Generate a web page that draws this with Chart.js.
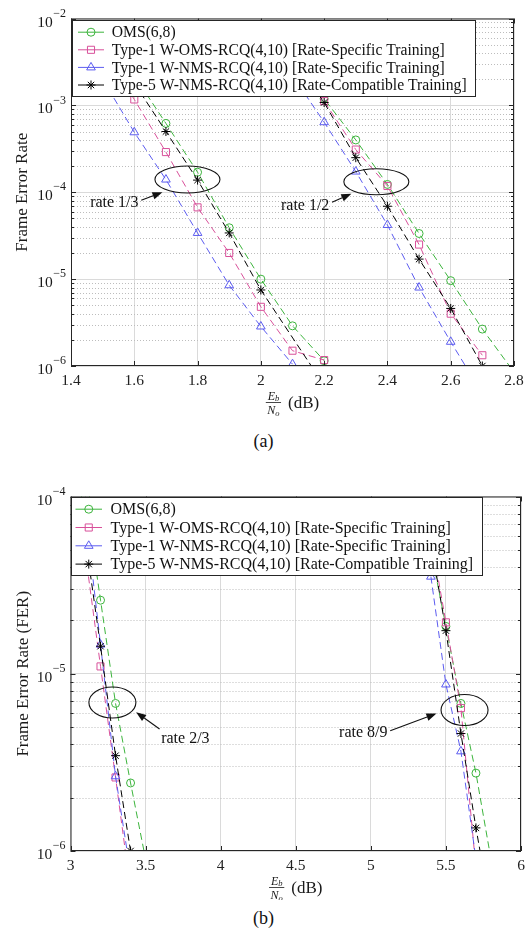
<!DOCTYPE html>
<html>
<head>
<meta charset="utf-8">
<script src="https://cdn.jsdelivr.net/npm/chart.js@4"></script>
<style>
  body { margin: 0; background: #fff; width: 527px; height: 942px; position: relative; overflow: hidden;
         font-family: "Liberation Serif", "DejaVu Serif", serif; color: #111; }
  canvas { position: absolute; left: 0; }
  #fer-a { top: 0; }
  #fer-b { top: 470px; }
  .caption { position: absolute; left: 0; width: 527px; text-align: center; font-size: 18px; line-height: 20px; }
</style>
</head>
<body>
<canvas id="fer-a" width="527" height="430"></canvas>
<canvas id="fer-b" width="527" height="430"></canvas>
<div class="caption" style="top:431px">(a)</div>
<div class="caption" style="top:908px">(b)</div>
<script>
const serif = '"Liberation Serif", "DejaVu Serif", serif';

const seriesNames = [
  'OMS(6,8)',
  'Type-1 W-OMS-RCQ(4,10) [Rate-Specific Training]',
  'Type-1 W-NMS-RCQ(4,10) [Rate-Specific Training]',
  'Type-5 W-NMS-RCQ(4,10) [Rate-Compatible Training]'
];
const seriesColors = ['#3cb43c', '#d8509a', '#5c5cf0', '#000000'];
const seriesMarkers = ['circle', 'rect', 'triangle', 'star'];
const markerRadius = [4, 5, 5, 4.5];

// (a) rate 1/3
const ebnoA13 = [1.5, 1.6, 1.7, 1.8, 1.9, 2.0, 2.1, 2.2];
const omsA13 = [null, 2.2e-3, 6.2e-4, 1.7e-4, 3.9e-5, 1.0e-5, 2.9e-6, 1.15e-6];
const womsA13 = [4.5e-3, 1.17e-3, 2.9e-4, 6.7e-5, 2.0e-5, 4.8e-6, 1.5e-6, 1.17e-6];
const wnmsA13 = [2.0e-3, 4.9e-4, 1.4e-4, 3.4e-5, 8.5e-6, 2.85e-6, 1.05e-6, null];
const t5nmsA13 = [null, 1.8e-3, 5.0e-4, 1.38e-4, 3.4e-5, 7.5e-6, null, 6.0e-7];

// (a) rate 1/2
const ebnoA12 = [2.1, 2.2, 2.3, 2.4, 2.5, 2.6, 2.7, 2.8];
const omsA12 = [3.6e-3, 1.19e-3, 4.0e-4, 1.23e-4, 3.35e-5, 9.6e-6, 2.66e-6, 8.5e-7];
const womsA12 = [3.6e-3, 1.12e-3, 3.1e-4, 1.18e-4, 2.5e-5, 4.0e-6, 1.33e-6, null];
const wnmsA12 = [2.2e-3, 6.4e-4, 1.73e-4, 4.2e-5, 8.0e-6, 1.9e-6, 4.8e-7, null];
const t5nmsA12 = [3.5e-3, 1.08e-3, 2.5e-4, 6.9e-5, 1.7e-5, 4.6e-6, 1.0e-6, null];

// (b) rate 2/3
const ebnoB23 = [3.1, 3.2, 3.3, 3.4, 3.5];
const omsB23 = [1.0e-4, 2.6e-5, 6.8e-6, 2.42e-6, 9.0e-7];
const womsB23 = [4.7e-5, 1.1e-5, 2.6e-6, 6.0e-7, null];
const wnmsB23 = [8.0e-5, 1.46e-5, 2.64e-6, 7.5e-7, null];
const t5nmsB23 = [5.7e-5, 1.43e-5, 3.45e-6, 1.0e-6, null];

// (b) rate 8/9
const ebnoB89 = [5.4, 5.5, 5.6, 5.7, 5.8];
const omsB89 = [5.0e-5, 1.85e-5, 6.8e-6, 2.75e-6, 9.0e-7];
const womsB89 = [5.9e-5, 1.95e-5, 6.4e-6, 8.0e-7, null];
const wnmsB89 = [3.53e-5, 8.7e-6, 3.65e-6, 9.0e-7, null];
const t5nmsB89 = [5.5e-5, 1.75e-5, 4.6e-6, 1.35e-6, 4.5e-7];

const yDecadesA = [-6, -5, -4, -3, -2];
const yDecadesB = [-6, -5, -4];

function curve(s, xs, ys) {
  return {
    label: seriesNames[s],
    data: xs.map((x, i) => ({ x: x, y: ys[i] })),
    borderColor: seriesColors[s],
    borderWidth: 1,
    borderDash: [7, 4],
    pointStyle: seriesMarkers[s],
    pointRadius: markerRadius[s],
    pointBorderColor: seriesColors[s],
    pointBackgroundColor: 'rgba(0,0,0,0)',
    pointBorderWidth: 1,
    spanGaps: true,
    order: 3 - s
  };
}

function fitFont(ctx, text, width) {
  ctx.font = '100px ' + serif;
  return 100 * width / ctx.measureText(text).width;
}

function drawArrow(ctx, x0, y0, x1, y1) {
  const ang = Math.atan2(y1 - y0, x1 - x0);
  const len = 10, hw = 3.8;
  const bx = x1 - len * Math.cos(ang), by = y1 - len * Math.sin(ang);
  ctx.beginPath();
  ctx.moveTo(x0, y0);
  ctx.lineTo(bx, by);
  ctx.stroke();
  ctx.beginPath();
  ctx.moveTo(x1, y1);
  ctx.lineTo(bx + hw * Math.sin(ang), by - hw * Math.cos(ang));
  ctx.lineTo(bx - hw * Math.sin(ang), by + hw * Math.cos(ang));
  ctx.closePath();
  ctx.fill();
}

function panelPlugin(opt) {
  return {
    id: 'panelDecor',
    beforeDatasetsDraw(chart) {
      // dotted minor grid between decades
      const { ctx, chartArea: a, scales: { y } } = chart;
      ctx.save();
      ctx.strokeStyle = '#bdbdbd';
      ctx.lineWidth = 1;
      ctx.setLineDash([1, 2]);
      opt.decades.slice(0, -1).forEach(e => {
        for (let k = 2; k <= 9; k++) {
          const py = Math.round(y.getPixelForValue(k * Number('1e' + e))) + 0.5;
          ctx.beginPath();
          ctx.moveTo(a.left, py);
          ctx.lineTo(a.right, py);
          ctx.stroke();
        }
      });
      ctx.restore();
    },
    afterDatasetsDraw(chart) {
      const { ctx, chartArea: a, scales: { x, y } } = chart;
      ctx.save();

      // axes box and inward ticks
      ctx.strokeStyle = '#262626';
      ctx.lineWidth = 1;
      ctx.strokeRect(a.left + 0.5, a.top + 0.5, a.right - a.left - 1, a.bottom - a.top - 1);
      ctx.beginPath();
      x.ticks.forEach(t => {
        const px = Math.round(x.getPixelForValue(t.value)) + 0.5;
        ctx.moveTo(px, a.bottom); ctx.lineTo(px, a.bottom - 5);
        ctx.moveTo(px, a.top); ctx.lineTo(px, a.top + 5);
      });
      opt.decades.forEach((e, i) => {
        const py = Math.round(y.getPixelForValue(Number('1e' + e))) + 0.5;
        ctx.moveTo(a.left, py); ctx.lineTo(a.left + 5, py);
        ctx.moveTo(a.right, py); ctx.lineTo(a.right - 5, py);
        if (i === opt.decades.length - 1) return;
        for (let k = 2; k <= 9; k++) {
          const pm = Math.round(y.getPixelForValue(k * Number('1e' + e))) + 0.5;
          ctx.moveTo(a.left, pm); ctx.lineTo(a.left + 3, pm);
          ctx.moveTo(a.right, pm); ctx.lineTo(a.right - 3, pm);
        }
      });
      ctx.stroke();

      // rate callouts
      ctx.strokeStyle = '#111';
      ctx.fillStyle = '#111';
      ctx.lineWidth = 1.1;
      opt.notes.forEach(n => {
        ctx.beginPath();
        ctx.ellipse(x.getPixelForValue(n.at[0]), y.getPixelForValue(n.at[1]), n.rx, n.ry, 0, 0, 2 * Math.PI);
        ctx.stroke();
        drawArrow(ctx, x.getPixelForValue(n.from[0]), y.getPixelForValue(n.from[1]),
                  x.getPixelForValue(n.to[0]), y.getPixelForValue(n.to[1]));
        ctx.font = '16px ' + serif;
        ctx.textAlign = 'center';
        ctx.textBaseline = 'middle';
        ctx.fillText(n.text, x.getPixelForValue(n.textAt[0]), y.getPixelForValue(n.textAt[1]));
      });

      // legend box
      const L = opt.legend;
      const bx = a.left + L.x, by = a.top + L.y;
      ctx.fillStyle = '#fff';
      ctx.fillRect(bx, by, L.w, L.h);
      ctx.strokeStyle = '#262626';
      ctx.lineWidth = 1;
      ctx.strokeRect(Math.round(bx) + 0.5, Math.round(by) + 0.5, L.w, L.h);
      const fs = fitFont(ctx, seriesNames[1], L.textWidth);
      seriesNames.forEach((name, s) => {
        const ry = by + L.first + s * L.step;
        ctx.strokeStyle = seriesColors[s];
        ctx.setLineDash([]);
        ctx.beginPath();
        ctx.moveTo(bx + L.s0, ry);
        ctx.lineTo(bx + L.s1, ry);
        ctx.stroke();
        ctx.fillStyle = 'rgba(0,0,0,0)';
        Chart.helpers.drawPoint(ctx, { pointStyle: seriesMarkers[s], radius: markerRadius[s], rotation: 0, borderWidth: 1 },
          bx + (L.s0 + L.s1) / 2, ry);
        ctx.fillStyle = '#111';
        ctx.font = fs + 'px ' + serif;
        ctx.textAlign = 'left';
        ctx.textBaseline = 'middle';
        ctx.fillText(name, bx + L.tx, ry + 1);
      });
      ctx.restore();
    },
    afterDraw(chart) {
      const { ctx, chartArea: a, scales: { y } } = chart;
      ctx.save();
      ctx.fillStyle = '#1a1a1a';

      // power-of-ten tick labels
      ctx.textBaseline = 'middle';
      ctx.textAlign = 'right';
      opt.decades.forEach(e => {
        const py = y.getPixelForValue(Number('1e' + e));
        const exp = '\u2212' + Math.abs(e);
        ctx.font = '12px ' + serif;
        const ew = ctx.measureText(exp).width;
        ctx.fillText(exp, a.left - 5, py - 5);
        ctx.font = '15.5px ' + serif;
        ctx.fillText('10', a.left - 5.5 - ew, py + 4);
      });

      // y axis title
      ctx.save();
      ctx.translate(opt.yTitleX, (a.top + a.bottom) / 2);
      ctx.rotate(-Math.PI / 2);
      ctx.textAlign = 'center';
      ctx.font = '17px ' + serif;
      ctx.fillText(opt.yTitle, 0, 0);
      ctx.restore();

      // x axis title: Eb/No (dB)
      const barY = a.bottom + 36.5;
      const cx = (a.left + a.right) / 2;
      ctx.font = '17px ' + serif;
      const wdB = ctx.measureText('(dB)').width;
      ctx.font = 'italic 12px ' + serif;
      const wE = ctx.measureText('E').width, wN = ctx.measureText('N').width;
      ctx.font = 'italic 8.5px ' + serif;
      const wb = ctx.measureText('b').width, wo = ctx.measureText('o').width;
      const wf = Math.max(wE + wb, wN + wo) + 3;
      const gap = 7;
      const x0 = cx - (wf + gap + wdB) / 2;
      ctx.textAlign = 'left';
      ctx.textBaseline = 'alphabetic';
      const nx = x0 + (wf - wE - wb) / 2;
      ctx.font = 'italic 12px ' + serif;
      ctx.fillText('E', nx, barY - 3);
      ctx.font = 'italic 8.5px ' + serif;
      ctx.fillText('b', nx + wE, barY - 1.5);
      const dx = x0 + (wf - wN - wo) / 2;
      ctx.font = 'italic 12px ' + serif;
      ctx.fillText('N', dx, barY + 11);
      ctx.font = 'italic 8.5px ' + serif;
      ctx.fillText('o', dx + wN, barY + 13);
      ctx.fillRect(x0, barY - 0.4, wf, 0.8);
      ctx.font = '17px ' + serif;
      ctx.textBaseline = 'middle';
      ctx.fillText('(dB)', x0 + wf + gap, barY + 1);
      ctx.restore();
    }
  };
}

function makeChart(id, opt) {
  return new Chart(document.getElementById(id), {
    type: 'line',
    data: { datasets: opt.datasets },
    options: {
      responsive: false,
      animation: false,
      events: [],
      layout: { padding: opt.padding },
      plugins: { legend: { display: false }, tooltip: { enabled: false } },
      scales: {
        x: {
          type: 'linear',
          min: opt.xMin,
          max: opt.xMax,
          ticks: {
            stepSize: opt.xStep,
            padding: 6,
            color: '#222',
            font: { family: serif, size: 15.5 },
            callback: v => String(Number(v.toFixed(2)))
          },
          grid: { color: '#dadada', drawTicks: false },
          border: { display: false },
          afterFit: s => {
            s.height = opt.xHeight;
            // plot edges are set by layout.padding alone
            s.paddingLeft = 0;
            s.paddingRight = 0;
          }
        },
        y: {
          type: 'logarithmic',
          min: Number('1e' + opt.decades[0]),
          max: Number('1e' + opt.decades[opt.decades.length - 1]),
          afterBuildTicks: s => { s.ticks = opt.decades.map(e => ({ value: Number('1e' + e), major: true })); },
          ticks: { display: false },
          grid: { color: '#dadada', drawTicks: false },
          border: { display: false },
          afterFit: s => { s.width = opt.yWidth; }
        }
      }
    },
    plugins: [panelPlugin(opt)]
  });
}

makeChart('fer-a', {
  datasets: [
    curve(0, ebnoA13, omsA13), curve(1, ebnoA13, womsA13), curve(2, ebnoA13, wnmsA13), curve(3, ebnoA13, t5nmsA13),
    curve(0, ebnoA12, omsA12), curve(1, ebnoA12, womsA12), curve(2, ebnoA12, wnmsA12), curve(3, ebnoA12, t5nmsA12)
  ],
  xMin: 1.4, xMax: 2.8, xStep: 0.2,
  decades: yDecadesA,
  padding: { top: 18.5, right: 13, left: 0, bottom: 0 },
  yWidth: 71, xHeight: 64,
  yTitle: 'Frame Error Rate', yTitleX: 23,
  legend: { x: 1, y: 1.5, w: 403, h: 76, first: 12.2, step: 17.6, s0: 6, s1: 32, tx: 39.7, textWidth: 333.6 },
  notes: [
    { text: 'rate 1/3', at: [1.768, 1.40e-4], rx: 32.5, ry: 13.5, textAt: [1.537, 7.5e-5], from: [1.622, 8.1e-5], to: [1.689, 1.0e-4] },
    { text: 'rate 1/2', at: [2.365, 1.32e-4], rx: 32.5, ry: 13, textAt: [2.14, 6.97e-5], from: [2.225, 7.67e-5], to: [2.286, 9.6e-5] }
  ]
});

makeChart('fer-b', {
  datasets: [
    curve(0, ebnoB23, omsB23), curve(1, ebnoB23, womsB23), curve(2, ebnoB23, wnmsB23), curve(3, ebnoB23, t5nmsB23),
    curve(0, ebnoB89, omsB89), curve(1, ebnoB89, womsB89), curve(2, ebnoB89, wnmsB89), curve(3, ebnoB89, t5nmsB89)
  ],
  xMin: 3, xMax: 6, xStep: 0.5,
  decades: yDecadesB,
  padding: { top: 26.5, right: 4.5, left: 0, bottom: 0 },
  yWidth: 70.5, xHeight: 49,
  yTitle: 'Frame Error Rate (FER)', yTitleX: 24,
  legend: { x: 0.5, y: 0.8, w: 411, h: 78, first: 11.9, step: 18.3, s0: 4.5, s1: 31, tx: 39.5, textWidth: 340.7 },
  notes: [
    { text: 'rate 2/3', at: [3.279, 6.88e-6], rx: 23.5, ry: 15.5, textAt: [3.765, 4.28e-6], from: [3.593, 4.88e-6], to: [3.437, 6.07e-6] },
    { text: 'rate 8/9', at: [5.624, 6.24e-6], rx: 23.5, ry: 15.5, textAt: [4.95, 4.63e-6], from: [5.129, 4.77e-6], to: [5.437, 5.96e-6] }
  ]
});
</script>
</body>
</html>
